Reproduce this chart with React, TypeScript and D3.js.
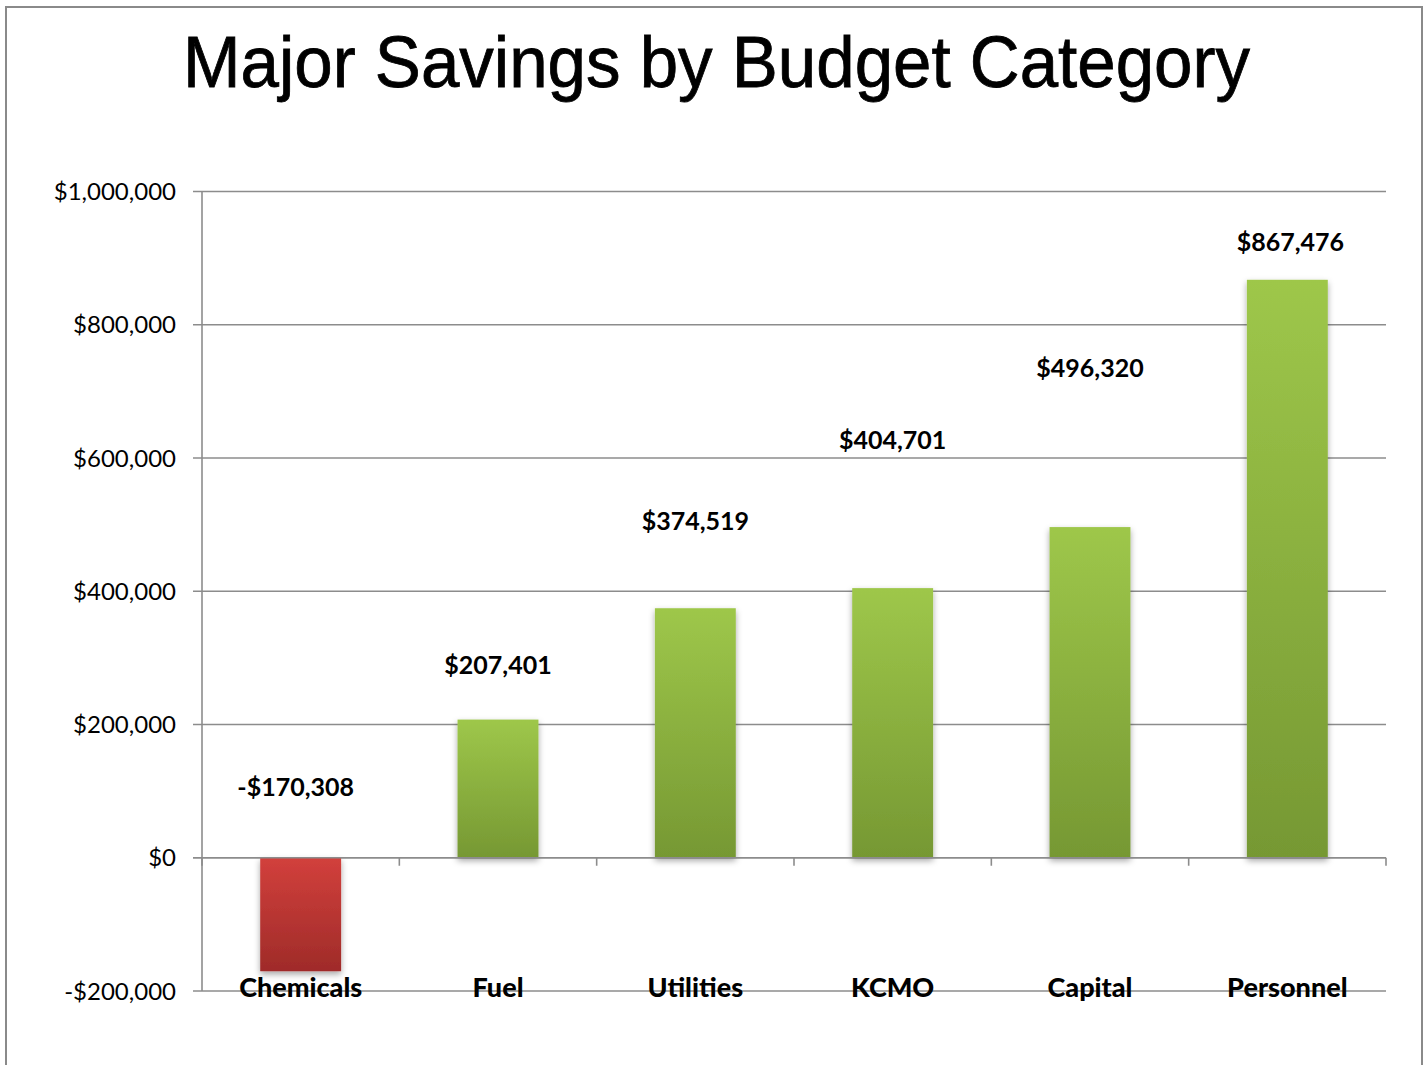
import React from "react";
import * as d3 from "d3";

const categories = ["Chemicals", "Fuel", "Utilities", "KCMO", "Capital", "Personnel"];
const savings = [-170308, 207401, 374519, 404701, 496320, 867476];
const yTicks = [-200000, 0, 200000, 400000, 600000, 800000, 1000000];
const title = "Major Savings by Budget Category";

// label anchor heights (in dollars) as placed in the reference
const labelAnchor = [105000, 288000, 504000, 626000, 735000, 923000];

const W = 1428;
const H = 1065;
const plotLeft = 202;
const plotRight = 1386;

export default function App() {
  const y = d3.scaleLinear().domain([-200000, 1000000]).range([991, 191.5]);
  const x = d3
    .scaleBand<string>()
    .domain(categories)
    .range([plotLeft, plotRight])
    .paddingInner(0.59)
    .paddingOuter(0.295);
  const step = x.step();
  const fmt = (v: number) =>
    (v < 0 ? "-$" : "$") + d3.format(",")(Math.abs(v));
  const y0 = y(0);
  const gridColor = "#8c8c8c";
  const font = "Lato, 'Open Sans', sans-serif";

  return (
    <svg
      width={W}
      height={H}
      style={{ position: "absolute", left: 0, top: 0, background: "#fff" }}
    >
      <defs>
        <linearGradient id="gGreen" x1="0" y1="0" x2="0" y2="1">
          <stop offset="0" stopColor="#9ec74a" />
          <stop offset="1" stopColor="#769833" />
        </linearGradient>
        <linearGradient id="gRed" x1="0" y1="0" x2="0" y2="1">
          <stop offset="0" stopColor="#d2403c" />
          <stop offset="1" stopColor="#9f2b29" />
        </linearGradient>
        <filter id="shadow" x="-20%" y="-20%" width="140%" height="140%">
          <feDropShadow dx="0" dy="3" stdDeviation="3" floodColor="#000" floodOpacity="0.35" />
        </filter>
      </defs>

      {/* frame */}
      <rect x={6} y={7} width={1416} height={1080} fill="none" stroke="#8a8a8a" strokeWidth={2} />

      {/* title */}
      <text
        x={(183 + 1250) / 2}
        y={87}
        textAnchor="middle"
        fontFamily="'Liberation Sans', Arial, sans-serif"
        fontSize={72}
        textLength={1067}
        lengthAdjust="spacingAndGlyphs"
        stroke="#000"
        strokeWidth={0.8}
        fill="#000"
      >
        {title}
      </text>

      {/* gridlines and y ticks */}
      {yTicks.map((t) => (
        <g key={t}>
          <line
            x1={plotLeft - 9}
            x2={plotRight}
            y1={y(t)}
            y2={y(t)}
            stroke={gridColor}
            strokeWidth={1.6}
          />
          <text
            x={176}
            y={y(t) + 8.5}
            textAnchor="end"
            fontFamily={font}
            fontSize={24}
            fill="#000"
          >
            {fmt(t)}
          </text>
        </g>
      ))}

      {/* y axis line */}
      <line x1={plotLeft} x2={plotLeft} y1={y(1000000)} y2={y(-200000)} stroke={gridColor} strokeWidth={1.6} />

      {/* bars */}
      {savings.map((v, i) => {
        const bx = x(categories[i])!;
        const top = Math.min(y(v), y0);
        const h = Math.abs(y(v) - y0);
        return (
          <rect
            key={categories[i]}
            x={bx}
            y={top}
            width={x.bandwidth()}
            height={h}
            fill={v < 0 ? "url(#gRed)" : "url(#gGreen)"}
            filter="url(#shadow)"
          />
        );
      })}

      {/* x axis line with category ticks */}
      <line x1={plotLeft - 9} x2={plotRight} y1={y0} y2={y0} stroke={gridColor} strokeWidth={1.6} />
      {d3.range(categories.length + 1).map((k) => {
        const tx = plotLeft + k * step;
        return (
          <line key={k} x1={tx} x2={tx} y1={y0} y2={y0 + 8} stroke={gridColor} strokeWidth={1.6} />
        );
      })}

      {/* value labels */}
      {savings.map((v, i) => (
        <text
          key={"v" + i}
          x={x(categories[i])! + x.bandwidth() / 2 - (i === 0 ? 5 : 0) + (i === 5 ? 3 : 0)}
          y={y(labelAnchor[i]) + 8.5}
          textAnchor="middle"
          fontFamily={font}
          fontWeight="bold"
          fontSize={25}
          fill="#000"
        >
          {fmt(v)}
        </text>
      ))}

      {/* category labels */}
      {categories.map((c) => (
        <text
          key={c}
          x={x(c)! + x.bandwidth() / 2}
          y={997}
          textAnchor="middle"
          fontFamily={font}
          fontWeight="900"
          fontSize={27}
          fill="#000"
        >
          {c}
        </text>
      ))}
    </svg>
  );
}
